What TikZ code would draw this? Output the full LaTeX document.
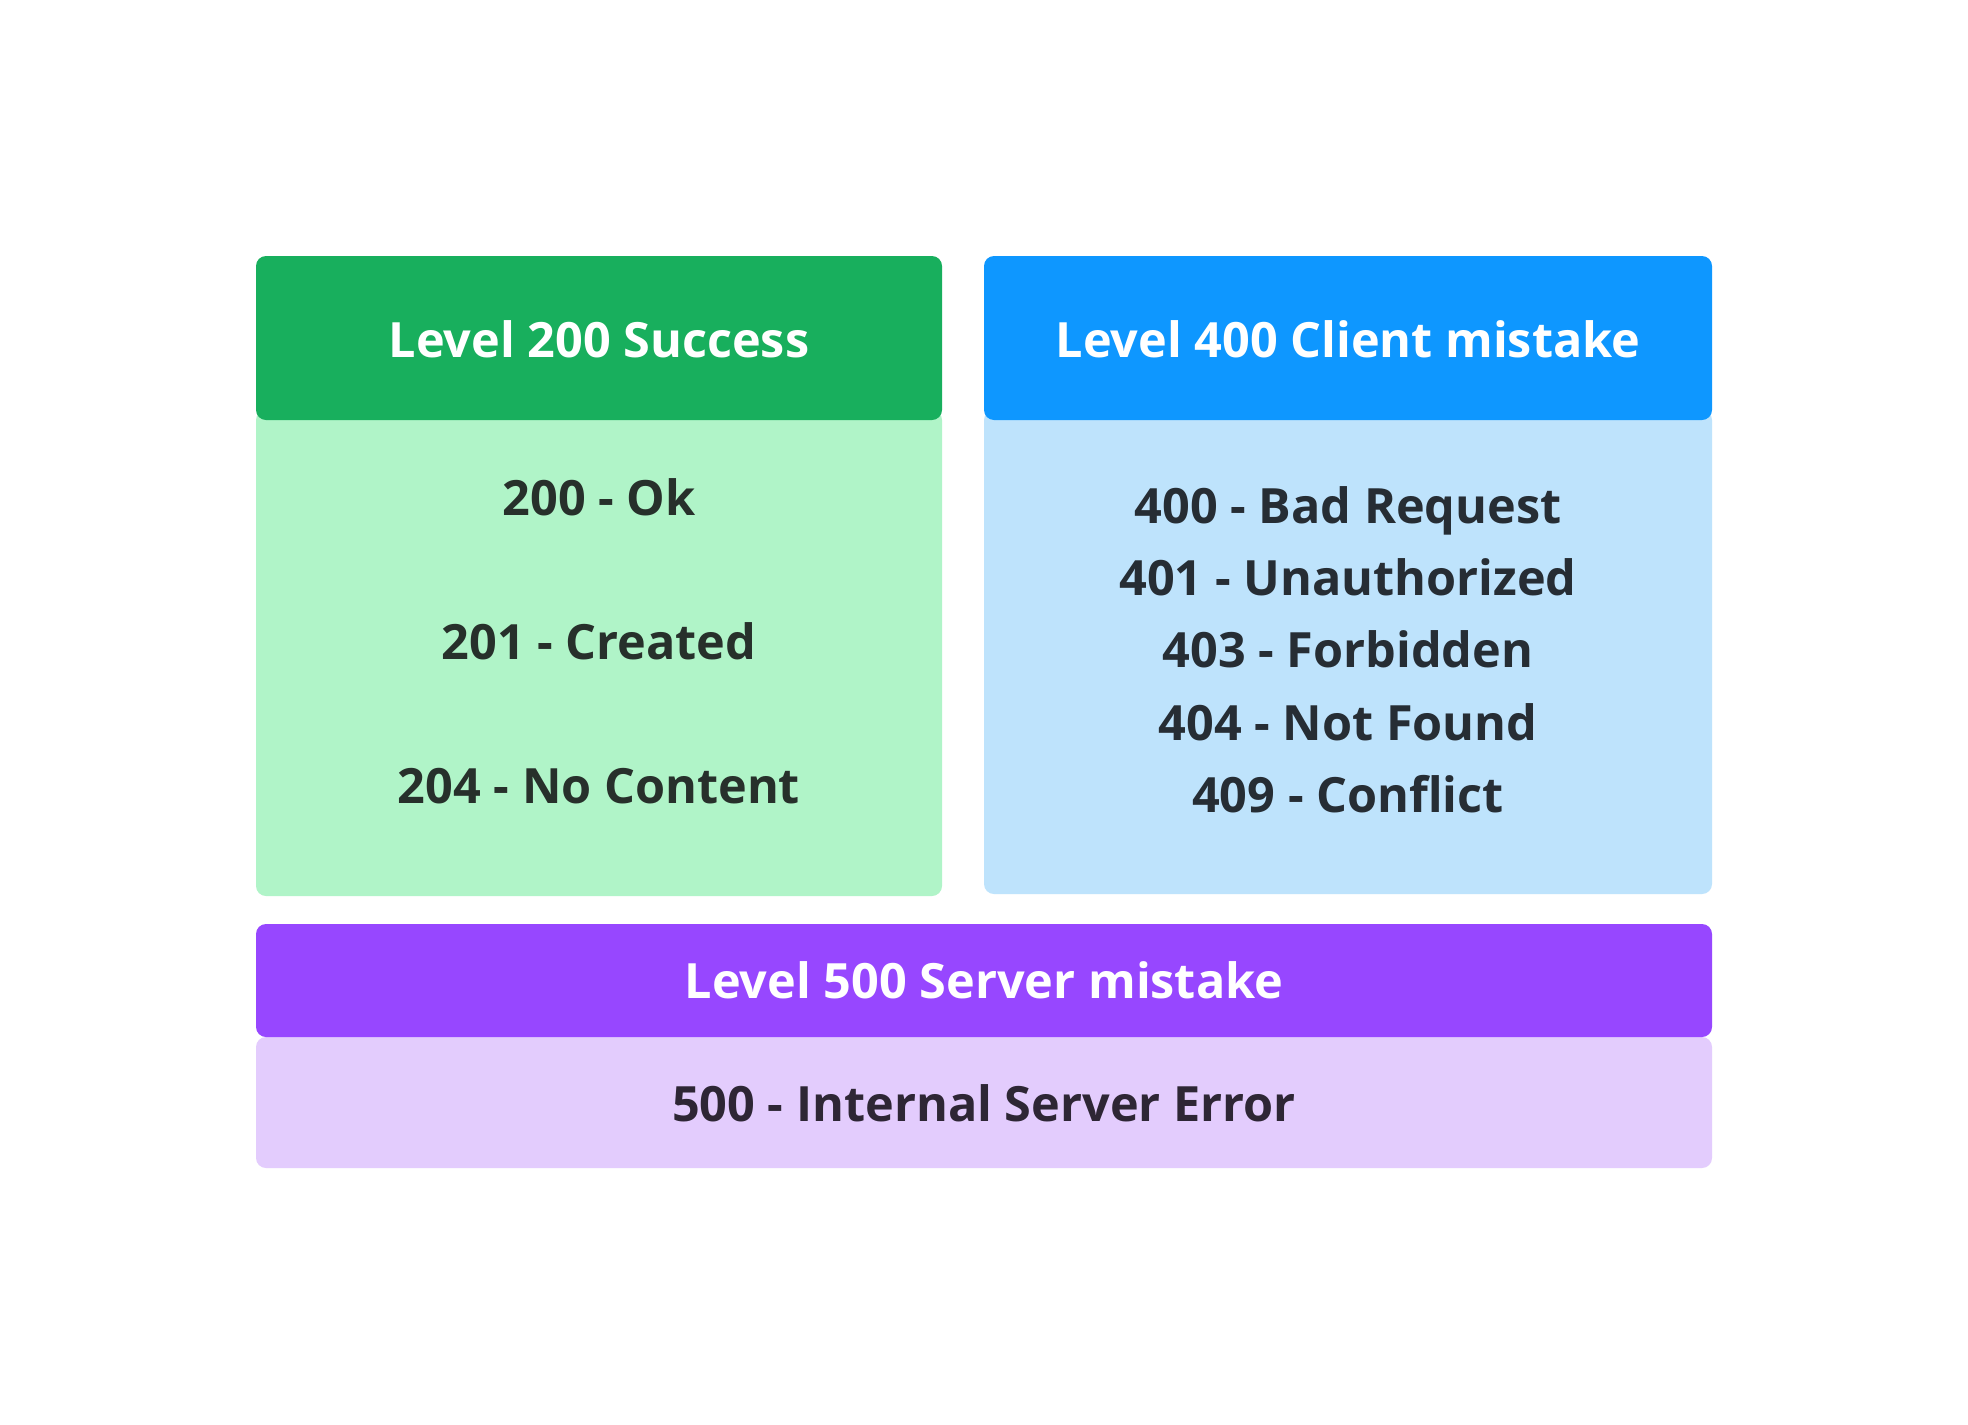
\documentclass[tikz,border=0pt]{standalone}
\usepackage{fontspec}
\setmainfont{Open Sans}[BoldFont={Open Sans Bold}]
\definecolor{okhead}{HTML}{18AF5D}
\definecolor{okbody}{HTML}{B0F4C8}
\definecolor{okink}{HTML}{27302B}
\definecolor{clhead}{HTML}{0E97FF}
\definecolor{clbody}{HTML}{BEE3FC}
\definecolor{clink}{HTML}{262D34}
\definecolor{svhead}{HTML}{9747FF}
\definecolor{svbody}{HTML}{E3CCFD}
\definecolor{svink}{HTML}{2E2635}
\tikzset{
  panel/.style={rounded corners=5pt},
  headtext/.style={text=white, font=\fontsize{24.3}{29}\selectfont\bfseries, anchor=base, inner sep=0pt},
  itemtext/.style={font=\fontsize{24.3}{29}\selectfont\bfseries, anchor=base, inner sep=0pt},
}
\begin{document}
\begin{tikzpicture}[x=0.5pt, y=-0.5pt]
\useasboundingbox[fill=white] (0,0) rectangle (1968,1424);

% Level 200 panel
\fill[okbody, panel] (256,410) rectangle (942,896);
\fill[okhead, panel] (256,256) rectangle (942,420);
\node[headtext] (h200) at (599,357) {Level 200 Success};
\node[itemtext, text=okink] (c200) at (599,515) {200 - Ok};
\node[itemtext, text=okink] (c201) at (599,659) {201 - Created};
\node[itemtext, text=okink] (c204) at (599,803) {204 - No Content};

% Level 400 panel
\fill[clbody, panel] (984,410) rectangle (1712,894);
\fill[clhead, panel] (984,256) rectangle (1712,420);
\node[headtext] (h400) at (1348,357) {Level 400 Client mistake};
\node[itemtext, text=clink] (c400) at (1348,523) {400 - Bad Request};
\node[itemtext, text=clink] (c401) at (1348,595) {401 - Unauthorized};
\node[itemtext, text=clink] (c403) at (1348,667) {403 - Forbidden};
\node[itemtext, text=clink] (c404) at (1348,740) {404 - Not Found};
\node[itemtext, text=clink] (c409) at (1348,812) {409 - Conflict};

% Level 500 panel
\fill[svbody, panel] (256,1037) rectangle (1712,1168);
\fill[svhead, panel] (256,924) rectangle (1712,1037);
\node[headtext] (h500) at (984,998.5) {Level 500 Server mistake};
\node[itemtext, text=svink] (c500) at (984,1121) {500 - Internal Server Error};
\end{tikzpicture}
\end{document}
